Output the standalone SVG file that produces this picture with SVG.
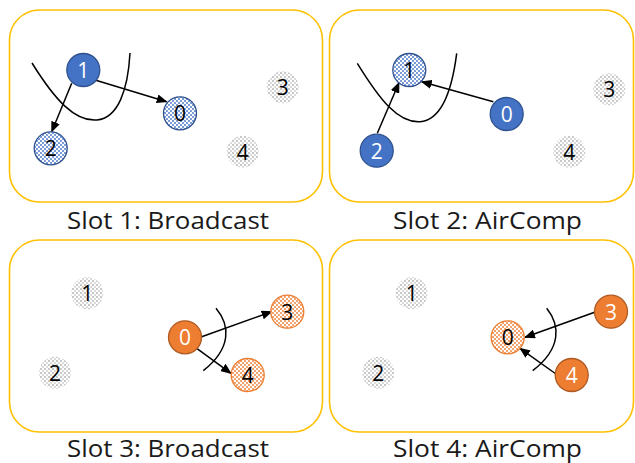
<svg xmlns="http://www.w3.org/2000/svg" width="635" height="463" viewBox="0 0 635 463">
<style>
.panel{fill:#fff;stroke:#FFC000;stroke-width:1.6}
.lbl{font-family:"Open Sans","Liberation Sans",sans-serif;font-size:23px;fill:#1a1a1a;text-anchor:middle}
.num{font-family:"Open Sans","Liberation Sans",sans-serif;font-size:21px;text-anchor:middle;dominant-baseline:central}
.nw{fill:#fff}.nb{fill:#000}
.sb{fill:#4472C4;stroke:#2F528F;stroke-width:1.3}
.pb{fill:url(#pBlue);stroke:#2F528F;stroke-width:1.3}
.so{fill:#ED7D31;stroke:#AE5A21;stroke-width:1.3}
.po{fill:url(#pOrange);stroke:#ED7D31;stroke-width:1.3}
.dg{fill:url(#pGray);stroke:none}
.arr{fill:none;stroke:#000;stroke-width:1.5;marker-end:url(#ah)}
.cv{fill:none;stroke:#000;stroke-width:1.5}
</style>
<defs>
<pattern id="pBlue" width="4" height="4" patternUnits="userSpaceOnUse">
<rect width="4" height="4" fill="#fff"/>
<circle cx="1" cy="1" r="0.95" fill="#4472C4"/>
<circle cx="3" cy="3" r="0.95" fill="#4472C4"/>
</pattern>
<pattern id="pOrange" width="4" height="4" patternUnits="userSpaceOnUse">
<rect width="4" height="4" fill="#fff"/>
<circle cx="1" cy="1" r="0.95" fill="#ED7D31"/>
<circle cx="3" cy="3" r="0.95" fill="#ED7D31"/>
</pattern>
<pattern id="pGray" width="4" height="4" patternUnits="userSpaceOnUse">
<rect width="4" height="4" fill="#fff"/>
<circle cx="1" cy="1" r="0.7" fill="#666"/>
<circle cx="3" cy="3" r="0.7" fill="#999"/>
</pattern>
<marker id="ah" markerWidth="11" markerHeight="9" refX="10" refY="4.5" orient="auto" markerUnits="userSpaceOnUse">
<path d="M0,0 L11,4.5 L0,9 Z" fill="#000"/>
</marker>
</defs>

<g id="panels">
<rect class="panel" x="9.5" y="10" width="313" height="192" rx="30"/>
<rect class="panel" x="329.5" y="10" width="304" height="192" rx="30"/>
<rect class="panel" x="9.5" y="240" width="313" height="192" rx="30"/>
<rect class="panel" x="329.5" y="240" width="304" height="192" rx="30"/>
</g>

<g id="labels">
<text class="lbl" x="168" y="229" textLength="202" lengthAdjust="spacingAndGlyphs">Slot 1: Broadcast</text>
<text class="lbl" x="487.5" y="229" textLength="189" lengthAdjust="spacingAndGlyphs">Slot 2: AirComp</text>
<text class="lbl" x="168" y="457" textLength="202" lengthAdjust="spacingAndGlyphs">Slot 3: Broadcast</text>
<text class="lbl" x="487.5" y="457" textLength="189" lengthAdjust="spacingAndGlyphs">Slot 4: AirComp</text>
</g>

<g id="connectors">
<path class="cv" d="M32,63 C55,100 75,122 97,120 C118,118 128,90 130,53"/>
<path class="arr" d="M95,80 L166.7,101.7"/>
<path class="arr" d="M71.7,83.3 L51.7,131.7"/>

<path class="cv" d="M357.3,63.3 C380,100 398,123 420,121.7 C442,120 452,90 456.7,53.3"/>
<path class="arr" d="M493.3,101.7 L421.7,81.7"/>
<path class="arr" d="M377.3,133.3 L399,82.7"/>

<path class="cv" d="M216,308.3 C230,325 232,348 203.3,370.7"/>
<path class="arr" d="M201.7,336.7 L271.7,311.7"/>
<path class="arr" d="M196.7,348.3 L231,373.3"/>

<path class="cv" d="M546.7,308.3 C560,325 562,348 532.7,370.7"/>
<path class="arr" d="M596,311.7 L525,337.3"/>
<path class="arr" d="M556,374 L520,348.3"/>
</g>

<g id="s1-n1"><circle class="sb" cx="83.3" cy="70" r="16.5"/><text class="num nw" x="83.3" y="70">1</text></g>
<g id="s1-n0"><circle class="pb" cx="180" cy="113.3" r="16.5"/><text class="num nb" x="180" y="113.3">0</text></g>
<g id="s1-n2"><circle class="pb" cx="50.7" cy="148.3" r="16.5"/><text class="num nb" x="50.7" y="148.3">2</text></g>
<g id="s1-n3"><circle class="dg" cx="282.7" cy="87.3" r="16"/><text class="num nb" x="282.7" y="87.3">3</text></g>
<g id="s1-n4"><circle class="dg" cx="242.7" cy="151.7" r="16"/><text class="num nb" x="242.7" y="151.7">4</text></g>

<g id="s2-n1"><circle class="pb" cx="409.3" cy="70" r="16.5"/><text class="num nb" x="409.3" y="70">1</text></g>
<g id="s2-n0"><circle class="sb" cx="506.7" cy="114" r="16.5"/><text class="num nw" x="506.7" y="114">0</text></g>
<g id="s2-n2"><circle class="sb" cx="376.7" cy="150.7" r="16.5"/><text class="num nw" x="376.7" y="150.7">2</text></g>
<g id="s2-n3"><circle class="dg" cx="609.3" cy="89.3" r="16"/><text class="num nb" x="609.3" y="89.3">3</text></g>
<g id="s2-n4"><circle class="dg" cx="569.3" cy="151.7" r="16"/><text class="num nb" x="569.3" y="151.7">4</text></g>

<g id="s3-n1"><circle class="dg" cx="87.3" cy="293.3" r="16"/><text class="num nb" x="87.3" y="293.3">1</text></g>
<g id="s3-n2"><circle class="dg" cx="55" cy="372.7" r="16"/><text class="num nb" x="55" y="372.7">2</text></g>
<g id="s3-n0"><circle class="so" cx="185" cy="337.3" r="16.5"/><text class="num nw" x="185" y="337.3">0</text></g>
<g id="s3-n3"><circle class="po" cx="287.3" cy="311.7" r="16.5"/><text class="num nb" x="287.3" y="311.7">3</text></g>
<g id="s3-n4"><circle class="po" cx="247.7" cy="375" r="16.5"/><text class="num nb" x="247.7" y="375">4</text></g>

<g id="s4-n1"><circle class="dg" cx="411.7" cy="293.3" r="16"/><text class="num nb" x="411.7" y="293.3">1</text></g>
<g id="s4-n2"><circle class="dg" cx="378.3" cy="372.7" r="16"/><text class="num nb" x="378.3" y="372.7">2</text></g>
<g id="s4-n0"><circle class="po" cx="507.7" cy="337.3" r="16.5"/><text class="num nb" x="507.7" y="337.3">0</text></g>
<g id="s4-n3"><circle class="so" cx="611" cy="311.7" r="16.5"/><text class="num nw" x="611" y="311.7">3</text></g>
<g id="s4-n4"><circle class="so" cx="571.7" cy="375" r="16.5"/><text class="num nw" x="571.7" y="375">4</text></g>
</svg>
